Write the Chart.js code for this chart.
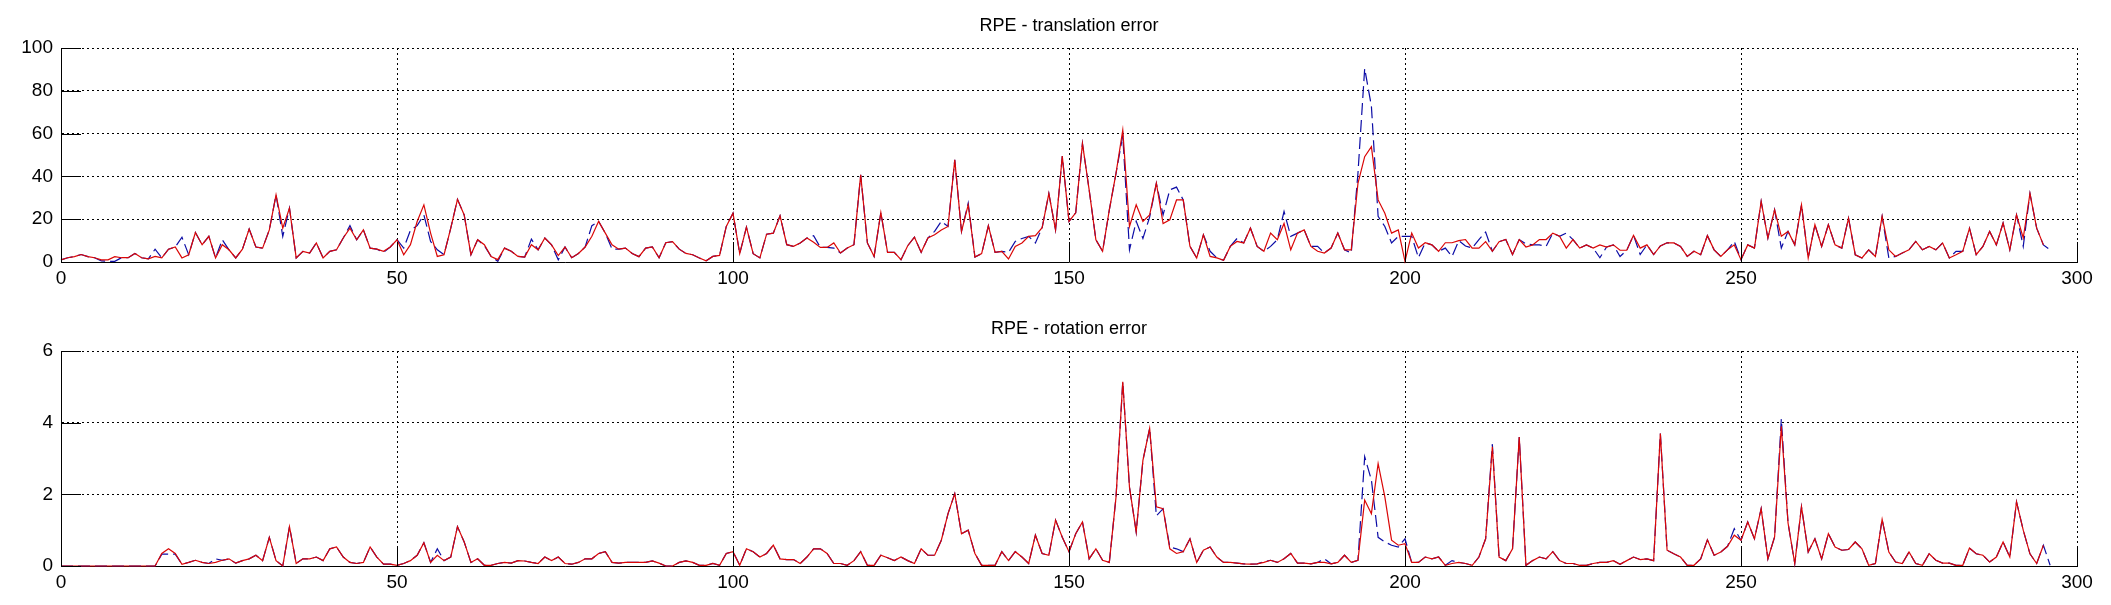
<!DOCTYPE html>
<html>
<head>
<meta charset="utf-8">
<title>RPE</title>
<script src="https://cdn.jsdelivr.net/npm/chart.js@4"></script>
<style>
  html, body { margin: 0; padding: 0; background: #fff; }
  #wrap { position: relative; width: 2111px; height: 605px; background: #fff; }
  #wrap canvas { position: absolute; left: 0; }
</style>
</head>
<body>
<div id="wrap">
  <canvas id="trans" width="2111" height="300" style="top:0px"></canvas>
  <canvas id="rot" width="2111" height="305" style="top:300px"></canvas>
</div>
<script>
// frame index runs 0..N
const trans_red = [
  1,2,2.5,3.5,2.5,2,1,1,2.5,2,
  2,4,2,1.5,2.6,1.9,6,7,1.9,3.4,
  13.8,8.1,12,1.9,8.1,5.7,1.9,6,15.4,7,
  6.5,15,31.4,15.8,25.2,1.9,5,4.2,8.9,1.9,
  5,5.7,11.2,15.8,10.4,15,6.5,6,5,7,
  10.4,3.4,8.1,18.9,26.7,13.5,2.6,3.4,15.8,29.3,
  22,3.4,10.4,8.1,2.6,1.1,6.5,5,2.6,2.3,
  8.1,5.7,11.2,8,3,7,2,4,7,12,
  19,13.5,8,6,6.5,4,2.5,6.5,7,2,
  9,9.5,6,4,3.4,1.9,0.6,2.6,3.1,16.6,
  22.8,3.9,16.3,3.9,1.9,13,13.5,21.6,8.1,7.3,
  8.9,11.2,9.2,6.8,6.8,8.9,4.2,6.5,8.1,40.7,
  8.9,2.6,23.1,4.5,4.5,1.1,7.6,11.6,4.5,11.2,
  12.7,15,16.6,47.7,14.3,26.7,2.3,3.9,16.9,4.5,
  5,1.4,7.3,8.9,12,12.3,16,32,15,49.5,
  19,23,55.4,33.7,10.4,5,24.4,41.5,61.6,16.6,
  26.7,19,22,36.8,18,19.7,29,29,7.3,1.9,
  12.7,2.6,1.9,0.8,7.3,9.6,8.9,15.8,7.3,5,
  13.5,10.4,18,5.7,13.5,15,7.3,5,4.2,6.5,
  13.5,5.7,5.7,36.8,49.2,53.9,29,22.8,13.5,15,
  0.3,13.5,6.5,9,8,5,9,9,10,10.5,
  6.5,6.5,9.5,5,9.5,10.5,3.5,10.5,7,8,
  10.5,10.5,13.5,12,6.5,10.5,6.5,8,6.5,8,
  7,8,5.5,5.5,12.5,6.5,8,3.5,7.5,9,
  8.9,7.3,2.6,5,3.4,12.3,5.7,2.6,5.7,8,
  1.1,8,6.5,28.3,11.2,24.4,12,14.3,8,26.7,
  1.9,17.4,7.3,17.4,8,6.5,20.5,3.4,1.9,5.7,
  2.6,21.3,5.7,2.6,4.2,5.7,9.6,5.7,7.3,5.7,
  8.9,1.9,3.4,5,15.8,3.4,7.3,14.3,8,18.2,
  5.7,22,11.2,32,15.8,8
];
const trans_blue = [
  1,2,2.5,3.5,2.5,2,0.5,0.3,0.3,2,
  2,4,2,1.5,6,1.9,6,7,11.6,3.4,
  13.8,8.1,12,1.9,10.4,5.7,1.9,6,15.4,7,
  6.5,15,31.4,12,25.2,1.9,5,4.2,8.9,1.9,
  5,5.7,11.2,17,10.4,15,6.5,6,4.5,7,
  10.4,6.5,14.8,17,22,9.6,5.7,3.4,15.8,29.3,
  22,3.4,10.4,7.6,2.6,0.3,6.5,5,2.6,2.3,
  10.7,5.7,11.2,8,1,7,2,4,7,17,
  19,13.5,6,6,6.5,4,2.5,6.5,7,2,
  9,9.5,6,4,3.4,1.9,0.6,2.6,3.1,16.6,
  22.8,3.9,16.3,3.9,1.9,13,13.5,21.6,8.1,7.3,
  8.9,11.2,12.3,6.8,6.8,6.5,4.2,6.5,8.1,40.7,
  8.9,2.6,23.1,4.5,4.5,1.1,7.6,11.6,4.5,11.2,
  14.3,19,16.6,47.7,14.3,27.5,2.3,3.9,16.9,4.5,
  5,4.5,9.6,11,12,8.9,16,32,15,49.5,
  19,23,55.4,33.7,10.4,5,24.4,41.5,59,5.7,
  19,11,21,36.8,22,33.7,35,29,7.3,1.9,
  12.7,5,1.9,0.8,7.3,11,8.9,15.8,7.3,5,
  7.3,10.4,23.6,12,13.5,15,7.3,7.3,4.2,6.5,
  13.5,5.7,4.2,41.5,90.4,72.8,21.3,16.6,8.9,12,
  12,12,2,9,8,5,6.5,2.6,10,7.5,
  6.5,10.5,14,5,9.5,10.5,3.5,10.5,8.5,8,
  8,7.3,13.5,12,13.5,10.5,6.5,8,6.5,2,
  7,8,2.6,5.5,12.5,3.5,8,3.5,7.5,9,
  8.9,7.3,2.6,5,3.4,12.3,5.7,2.6,5.7,9.6,
  1.1,8,6.5,28.3,11.2,24.4,6.5,14.3,8,26.7,
  1.9,17.4,7.3,17.4,8,6.5,20.5,3.4,1.9,5.7,
  2.6,21.3,1.9,2.6,4.2,5.7,9.6,5.7,7.3,5.7,
  8.9,1.9,5,5,15.8,3.4,7.3,14.3,8,18.2,
  5.7,22,7.3,32,15.8,8,5.7
];
const rot_red = [
  0,0,0,0,0,0,0,0,0,0,
  0,0,0,0,0,0.35,0.48,0.35,0.05,0.1,
  0.16,0.1,0.07,0.1,0.16,0.2,0.08,0.15,0.2,0.3,
  0.15,0.8,0.15,0,1.1,0.07,0.2,0.2,0.25,0.15,
  0.48,0.53,0.25,0.1,0.07,0.1,0.53,0.25,0.05,0.05,
  0.02,0.07,0.15,0.3,0.65,0.1,0.3,0.15,0.25,1.1,
  0.67,0.1,0.2,0.02,0.02,0.07,0.1,0.08,0.15,0.14,
  0.1,0.07,0.25,0.15,0.25,0.07,0.05,0.1,0.2,0.2,
  0.35,0.4,0.1,0.08,0.1,0.1,0.1,0.1,0.14,0.08,
  0,0,0.1,0.14,0.1,0.02,0.02,0.07,0.02,0.35,
  0.4,0.02,0.48,0.4,0.25,0.35,0.58,0.2,0.18,0.18,
  0.07,0.25,0.48,0.48,0.35,0.07,0.07,0.02,0.15,0.4,
  0.02,0.02,0.3,0.23,0.15,0.25,0.15,0.07,0.48,0.3,
  0.3,0.72,1.46,2.02,0.9,1.0,0.35,0.02,0.02,0.02,
  0.4,0.15,0.4,0.25,0.07,0.86,0.35,0.3,1.28,0.8,
  0.4,0.9,1.23,0.2,0.48,0.16,0.1,1.93,5.14,2.2,
  0.95,2.95,3.84,1.65,1.6,0.48,0.35,0.4,0.76,0.1,
  0.44,0.53,0.25,0.1,0.1,0.08,0.06,0.05,0.06,0.1,
  0.16,0.1,0.2,0.35,0.08,0.08,0.06,0.1,0.1,0.06,
  0.1,0.3,0.1,0.16,1.84,1.46,2.86,1.93,0.72,0.58,
  0.62,0.1,0.1,0.25,0.2,0.25,0.02,0.07,0.1,0.07,
  0.02,0.25,0.76,3.33,0.25,0.15,0.48,3.6,0.02,0.15,
  0.25,0.2,0.4,0.15,0.07,0.07,0.02,0.02,0.07,0.1,
  0.1,0.15,0.05,0.15,0.25,0.18,0.2,0.15,3.7,0.44,
  0.34,0.25,0.02,0.02,0.2,0.73,0.3,0.39,0.55,0.86,
  0.72,1.23,0.76,1.6,0.2,0.81,3.9,1.2,0.07,1.65,
  0.39,0.76,0.2,0.9,0.53,0.44,0.46,0.67,0.48,0.02,
  0.07,1.3,0.39,0.11,0.07,0.39,0.07,0.02,0.34,0.16,
  0.08,0.08,0.02,0.02,0.5,0.34,0.3,0.11,0.25,0.67,
  0.25,1.79,1.0,0.34,0.07,0.58
];
const rot_blue = [
  0,0,0,0,0,0,0,0,0,0,
  0,0,0,0,0,0.33,0.33,0.33,0.05,0.1,
  0.16,0.1,0.07,0.2,0.16,0.2,0.08,0.15,0.2,0.3,
  0.15,0.8,0.15,0,1.1,0.07,0.2,0.2,0.25,0.15,
  0.48,0.53,0.25,0.1,0.07,0.1,0.53,0.25,0.05,0.05,
  0.02,0.07,0.15,0.3,0.65,0.1,0.48,0.15,0.25,1.1,
  0.67,0.1,0.2,0.02,0.02,0.07,0.1,0.08,0.15,0.14,
  0.1,0.07,0.25,0.15,0.25,0.07,0.05,0.1,0.2,0.2,
  0.35,0.4,0.1,0.08,0.1,0.1,0.1,0.1,0.14,0.08,
  0,0,0.1,0.14,0.1,0.02,0.02,0.07,0.02,0.35,
  0.4,0.02,0.48,0.4,0.25,0.35,0.58,0.2,0.18,0.18,
  0.07,0.25,0.48,0.48,0.35,0.07,0.07,0.02,0.15,0.4,
  0.02,0.02,0.3,0.23,0.15,0.25,0.15,0.07,0.48,0.3,
  0.3,0.72,1.46,2.02,0.9,1.0,0.35,0.02,0.02,0.02,
  0.4,0.15,0.4,0.25,0.07,0.86,0.35,0.3,1.28,0.8,
  0.4,0.9,1.23,0.2,0.48,0.16,0.1,1.93,5.14,2.2,
  0.95,2.95,3.84,1.4,1.6,0.53,0.48,0.4,0.76,0.1,
  0.44,0.53,0.25,0.1,0.1,0.08,0.06,0.05,0.06,0.12,
  0.16,0.1,0.2,0.35,0.08,0.08,0.06,0.1,0.2,0.06,
  0.1,0.3,0.1,0.16,3.05,2.4,0.8,0.67,0.58,0.53,
  0.76,0.1,0.1,0.25,0.2,0.25,0.02,0.15,0.1,0.07,
  0.02,0.25,0.76,3.4,0.25,0.15,0.48,3.6,0.02,0.15,
  0.25,0.2,0.4,0.15,0.07,0.07,0.02,0.02,0.07,0.1,
  0.1,0.15,0.05,0.15,0.25,0.18,0.2,0.15,3.7,0.44,
  0.34,0.25,0.02,0.02,0.2,0.73,0.3,0.39,0.55,1.04,
  0.72,1.23,0.76,1.6,0.2,0.81,4.1,1.2,0.07,1.65,
  0.39,0.76,0.2,0.9,0.53,0.44,0.46,0.67,0.48,0.02,
  0.07,1.3,0.39,0.11,0.07,0.39,0.07,0.02,0.34,0.16,
  0.08,0.08,0.02,0.02,0.5,0.34,0.3,0.11,0.25,0.67,
  0.25,1.79,1.0,0.34,0.07,0.58,0.02
];

const x_max = 300, x_step = 50;
const trans_title = 'RPE - translation error';
const rot_title = 'RPE - rotation error';

const RED = '#da0606';
const BLUE = '#0c0ca6';
const TICK_FONT = { family: '"Liberation Sans Narrow", "Liberation Sans", Arial, sans-serif', size: 19 };
const TITLE_FONT = { family: '"Liberation Sans", Arial, sans-serif', size: 18, weight: 'normal' };
const TICK_LEN = 20;

// matlab style ticks pointing into the plot
const inwardTicks = {
  id: 'inwardTicks',
  afterDraw(chart) {
    const { ctx, chartArea: a, scales: { x, y } } = chart;
    ctx.save();
    ctx.strokeStyle = '#000';
    ctx.lineWidth = 1;
    ctx.beginPath();
    x.ticks.forEach(t => {
      const px = Math.round(x.getPixelForValue(t.value)) + 0.5;
      ctx.moveTo(px, a.bottom);
      ctx.lineTo(px, a.bottom - TICK_LEN);
    });
    y.ticks.forEach(t => {
      const py = Math.round(y.getPixelForValue(t.value)) + 0.5;
      ctx.moveTo(a.left, py);
      ctx.lineTo(a.left + TICK_LEN, py);
    });
    ctx.stroke();
    ctx.restore();
  }
};

function toPoints(arr) {
  return arr.map((v, i) => ({ x: i, y: v }));
}

function makeChart(id, title, blue, red, yMax, yStep, titlePad, xHeight) {
  return new Chart(document.getElementById(id), {
    type: 'line',
    data: {
      datasets: [
        {
          label: 'red',
          data: toPoints(red),
          borderColor: RED,
          borderWidth: 1.2,
          pointRadius: 0,
          tension: 0,
          fill: false,
          clip: false,
          order: 0
        },
        {
          label: 'blue',
          data: toPoints(blue),
          borderColor: BLUE,
          borderWidth: 1.2,
          borderDash: [12, 5],
          pointRadius: 0,
          tension: 0,
          fill: false,
          clip: false,
          order: 1
        }
      ]
    },
    options: {
      responsive: false,
      animation: false,
      devicePixelRatio: 1,
      events: [],
      layout: { padding: { left: 0, right: 34, top: 0, bottom: 0 } },
      plugins: {
        legend: { display: false },
        tooltip: { enabled: false },
        title: {
          display: true,
          text: title,
          fullSize: false,
          color: '#000',
          font: TITLE_FONT,
          padding: titlePad
        }
      },
      scales: {
        x: {
          type: 'linear',
          min: 0,
          max: x_max,
          afterFit: s => { s.height = xHeight; },
          ticks: { stepSize: x_step, color: '#000', font: TICK_FONT, padding: 5, maxRotation: 0, autoSkip: false },
          grid: { color: '#000', lineWidth: 1, drawTicks: false },
          border: { display: true, color: '#000', width: 1, dash: [2, 3] }
        },
        y: {
          min: 0,
          max: yMax,
          afterFit: s => { s.width = 61; },
          ticks: { stepSize: yStep, color: '#000', font: TICK_FONT, padding: 8 },
          grid: { color: '#000', lineWidth: 1, drawTicks: false },
          border: { display: true, color: '#000', width: 1, dash: [2, 3] }
        }
      }
    },
    plugins: [inwardTicks]
  });
}

makeChart('trans', trans_title, trans_blue, trans_red, 100, 20, { top: 15, bottom: 11.4 }, 38);
makeChart('rot', rot_title, rot_blue, rot_red, 6, 2, { top: 18, bottom: 11.4 }, 39);
</script>
</body>
</html>
